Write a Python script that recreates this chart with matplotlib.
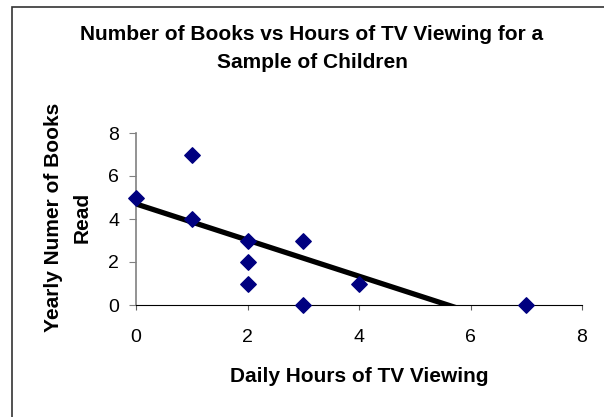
import matplotlib.pyplot as plt
import numpy as np
from matplotlib.patches import Rectangle

plt.rcParams['font.family'] = ['Liberation Sans', 'DejaVu Sans']

# Data
tv_hours = [0, 1, 1, 2, 2, 2, 3, 3, 4, 7]
books_read = [5, 7, 4, 3, 2, 1, 3, 0, 1, 0]
x_ticks = [0, 2, 4, 6, 8]
y_ticks = [0, 2, 4, 6, 8]

W, H = 604, 417
fig = plt.figure(figsize=(W / 100, H / 100), dpi=100)

# Outer chart frame (runs off the right/bottom edge)
fig.patches.append(Rectangle((12 / W, -0.1), 1.2, 1 - 7 / H + 0.1,
                             transform=fig.transFigure, fill=False,
                             edgecolor='#333333', linewidth=1.2))

ax = fig.add_axes([136 / W, 1 - 305 / H, 446 / W, 172 / H])

# Linear trend line (clipped by the axes)
slope, intercept = np.polyfit(tv_hours, books_read, 1)
xs = np.array([0, 7])
ax.plot(xs, slope * xs + intercept, color='black', linewidth=3.8, zorder=2)

ax.scatter(tv_hours, books_read, marker='D', s=62, color='#000080',
           zorder=3, clip_on=False)

ax.set_xlim(0, 8)
ax.set_ylim(0, 8)
ax.set_xticks(x_ticks)
ax.set_yticks(y_ticks)

for side in ['top', 'right']:
    ax.spines[side].set_visible(False)
ax.spines['left'].set_color('#808080')
ax.spines['left'].set_linewidth(1.2)
ax.spines['bottom'].set_color('black')
ax.tick_params(axis='both', direction='out', labelsize=14)
ax.tick_params(axis='x', length=3.5, colors='#606060', labelcolor='black', pad=14)
ax.tick_params(axis='y', length=5, colors='#808080', labelcolor='black', pad=7)

fig.text(359 / W, 1 - 376 / H, 'Daily Hours of TV Viewing',
         ha='center', va='center', fontsize=15, fontweight='bold')
fig.text(68 / W, 1 - 217 / H, 'Yearly Numer of Books\nRead', rotation=90,
         ha='center', va='center', multialignment='center',
         fontsize=15, fontweight='bold', linespacing=1.6)
fig.text(312 / W, 1 - 49 / H, 'Number of Books vs Hours of TV Viewing for a\nSample of Children',
         ha='center', va='center', fontsize=15, fontweight='bold',
         linespacing=1.6)

fig.savefig('out.png', dpi=100)
